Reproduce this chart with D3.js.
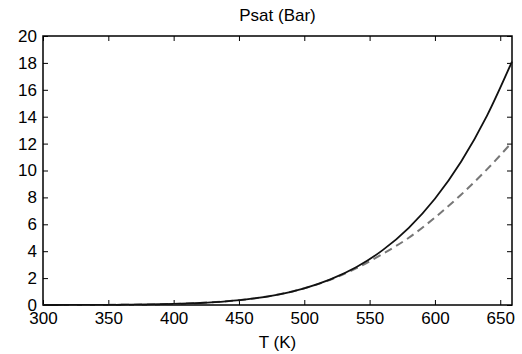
<!DOCTYPE html>
<html>
<head>
<meta charset="utf-8">
<script src="https://cdn.jsdelivr.net/npm/d3@7"></script>
<style>
  body { margin: 0; background: #fff; }
  svg { display: block; font-family: "Liberation Sans", Arial, sans-serif; }
</style>
</head>
<body>
<svg id="chart" width="522" height="354"></svg>
<script>
// temperatures (K) sampled along the curves
const temps = [300, 320, 340, 360, 380, 400, 420, 440, 460, 480, 500, 520, 540, 560, 580, 600, 620, 640, 659];
// solid curve
const psatSolid = [0.001, 0.002, 0.007, 0.017, 0.037, 0.077, 0.15, 0.27, 0.47, 0.78, 1.24, 1.9, 2.82, 4.08, 5.74, 7.9, 10.65, 14.1, 18.1];
// dashed curve
const psatDashed = [0.001, 0.002, 0.007, 0.017, 0.037, 0.077, 0.15, 0.27, 0.47, 0.78, 1.24, 1.88, 2.74, 3.8, 5.0, 6.5, 8.2, 10.1, 12.1];
const xTicks = [300, 350, 400, 450, 500, 550, 600, 650];
const yTicks = [0, 2, 4, 6, 8, 10, 12, 14, 16, 18, 20];

const svg = d3.select("#chart");
const margin = { top: 36, right: 10, bottom: 49, left: 43 };
const width = +svg.attr("width") - margin.left - margin.right;
const height = +svg.attr("height") - margin.top - margin.bottom;

const x = d3.scaleLinear().domain([300, 659]).range([0, width]);
const y = d3.scaleLinear().domain([0, 20]).range([height, 0]);

const g = svg.append("g")
  .attr("transform", "translate(" + margin.left + "," + margin.top + ")");

// ticks on all four sides, pointing inwards
g.append("g")
  .attr("transform", "translate(0," + height + ")")
  .call(d3.axisBottom(x).tickValues(xTicks).tickSizeInner(-5).tickSizeOuter(0).tickPadding(7))
  .call(a => a.select(".domain").remove())
  .selectAll("text").attr("font-size", 17).attr("fill", "#000");

g.append("g")
  .call(d3.axisLeft(y).tickValues(yTicks).tickSizeInner(-5).tickSizeOuter(0).tickPadding(6))
  .call(a => a.select(".domain").remove())
  .selectAll("text").attr("font-size", 17).attr("fill", "#000");

g.append("g")
  .call(d3.axisTop(x).tickValues(xTicks).tickSizeInner(-5).tickSizeOuter(0).tickFormat(""))
  .call(a => a.select(".domain").remove());

g.append("g")
  .attr("transform", "translate(" + width + ",0)")
  .call(d3.axisRight(y).tickValues(yTicks).tickSizeInner(-5).tickSizeOuter(0).tickFormat(""))
  .call(a => a.select(".domain").remove());

g.append("rect")
  .attr("width", width).attr("height", height)
  .attr("fill", "none").attr("stroke", "#000").attr("stroke-width", 1.5);

const line = d3.line()
  .x((d, i) => x(temps[i]))
  .y(d => y(d))
  .curve(d3.curveMonotoneX);

g.append("path")
  .attr("d", line(psatDashed))
  .attr("fill", "none")
  .attr("stroke", "#777")
  .attr("stroke-width", 2)
  .attr("stroke-dasharray", "8,5");

g.append("path")
  .attr("d", line(psatSolid))
  .attr("fill", "none")
  .attr("stroke", "#111")
  .attr("stroke-width", 1.8);

svg.append("text")
  .attr("x", margin.left + width / 2).attr("y", 21)
  .attr("text-anchor", "middle").attr("font-size", 17).attr("fill", "#000")
  .text("Psat (Bar)");

svg.append("text")
  .attr("x", margin.left + width / 2).attr("y", 348)
  .attr("text-anchor", "middle").attr("font-size", 17).attr("fill", "#000")
  .text("T (K)");
</script>
</body>
</html>
